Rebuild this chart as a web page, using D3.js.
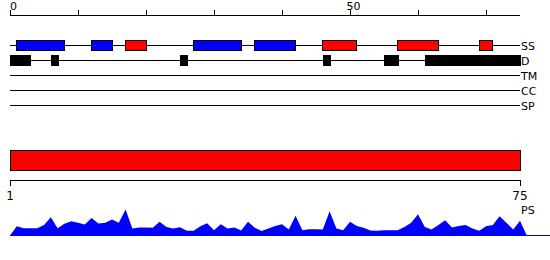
<!DOCTYPE html>
<html>
<head>
<meta charset="utf-8">
<script src="https://cdn.jsdelivr.net/npm/d3@7"></script>
<style>
    body { margin: 0; background: #fff; }
    svg { display: block; font-family: "DejaVu Sans", sans-serif; }
</style>
</head>
<body>
<div id="chart"></div>
<script>
// Feature tracks (residue ranges)
const trackNames = ["SS", "D", "TM", "CC", "SP"];
const helixSegments = [[1, 8], [12, 15], [27, 34], [36, 42]];
const strandSegments = [[17, 20], [46, 51], [57, 63], [69, 71]];
const disorderSegments = [[0, 3], [6, 7], [25, 26], [46, 47], [55, 57], [61, 75]];

// Top ruler
const topTicks = [0, 10, 20, 30, 40, 50, 60, 70];
const topTickLabels = ["0", "", "", "", "", "50", "", ""];

// Sequence bar + bottom ruler
const seqStart = 1;
const seqEnd = 75;
const bottomTicks = [1, 75];

// Per-residue score (PS), residues 1..75
const psValues = [
    0.36, 0.28, 0.28, 0.28, 0.40, 0.70, 0.28, 0.45, 0.55, 0.49,
    0.42, 0.67, 0.46, 0.49, 0.62, 0.49, 1.00, 0.27, 0.31, 0.31,
    0.30, 0.53, 0.33, 0.27, 0.32, 0.18, 0.18, 0.36, 0.47, 0.20,
    0.43, 0.27, 0.31, 0.19, 0.53, 0.30, 0.17, 0.27, 0.37, 0.43,
    0.23, 0.76, 0.20, 0.24, 0.24, 0.23, 0.93, 0.27, 0.20, 0.53,
    0.37, 0.30, 0.19, 0.18, 0.20, 0.20, 0.20, 0.33, 0.49, 0.82,
    0.33, 0.23, 0.40, 0.59, 0.31, 0.37, 0.40, 0.27, 0.18, 0.36,
    0.40, 0.74, 0.49, 0.23, 0.57
];

const width = 550;
const height = 260;

const svg = d3.select("#chart")
    .append("svg")
    .attr("width", width)
    .attr("height", height);

// Position scale shared by ruler, tracks and score area
const x = d3.scaleLinear().domain([0, 75]).range([10, 520]);
const xSeq = d3.scaleLinear().domain([seqStart, seqEnd]).range([10, 520]);
const trackY = d3.scalePoint().domain(trackNames).range([45, 105]);

// Top ruler
const topAxis = svg.append("g").attr("shape-rendering", "crispEdges");
topAxis.append("line")
    .attr("x1", x(0)).attr("x2", x(75))
    .attr("y1", 15.5).attr("y2", 15.5)
    .attr("stroke", "#000");
topAxis.selectAll(".tick")
    .data(topTicks)
    .join("line")
    .attr("x1", d => Math.round(x(d)) + 0.5)
    .attr("x2", d => Math.round(x(d)) + 0.5)
    .attr("y1", 10).attr("y2", 15.5)
    .attr("stroke", "#000");
topAxis.selectAll("text")
    .data(topTicks)
    .join("text")
    .attr("x", d => x(d) + 3.5)
    .attr("y", 10)
    .attr("text-anchor", "middle")
    .attr("font-size", 11)
    .text((d, i) => topTickLabels[i]);

// Track lines and labels
const tracks = svg.append("g").attr("shape-rendering", "crispEdges");
tracks.selectAll("line")
    .data(trackNames)
    .join("line")
    .attr("x1", x(0)).attr("x2", x(75))
    .attr("y1", d => trackY(d) + 0.5)
    .attr("y2", d => trackY(d) + 0.5)
    .attr("stroke", "#000");
svg.selectAll(".track-label")
    .data(trackNames)
    .join("text")
    .attr("class", "track-label")
    .attr("x", x(75) + 1)
    .attr("y", d => trackY(d) + 4.5)
    .attr("font-size", 11)
    .text(d => d);

// Secondary structure boxes
const ssY = trackY("SS");
const ssBoxes = helixSegments.map(s => ({ s, color: "#0000ff" }))
    .concat(strandSegments.map(s => ({ s, color: "#ff0000" })));
tracks.selectAll(".ss")
    .data(ssBoxes)
    .join("rect")
    .attr("class", "ss")
    .attr("x", d => Math.floor(x(d.s[0])) + 0.5)
    .attr("y", ssY - 4.5)
    .attr("width", d => Math.floor(x(d.s[1])) - Math.floor(x(d.s[0])))
    .attr("height", 10)
    .attr("fill", d => d.color)
    .attr("stroke", "#000");

// Disorder boxes
const dY = trackY("D");
tracks.selectAll(".dis")
    .data(disorderSegments)
    .join("rect")
    .attr("class", "dis")
    .attr("x", d => Math.round(x(d[0])))
    .attr("y", dY - 5)
    .attr("width", d => Math.round(x(d[1]) - x(d[0])) + 1)
    .attr("height", 11)
    .attr("fill", "#000");

// Sequence bar
const seq = svg.append("g").attr("shape-rendering", "crispEdges");
seq.append("rect")
    .attr("x", xSeq(seqStart) + 0.5)
    .attr("y", 150.5)
    .attr("width", xSeq(seqEnd) - xSeq(seqStart))
    .attr("height", 20)
    .attr("fill", "#ff0000")
    .attr("stroke", "#000");

// Bottom ruler
seq.append("line")
    .attr("x1", xSeq(seqStart)).attr("x2", xSeq(seqEnd) + 1)
    .attr("y1", 180.5).attr("y2", 180.5)
    .attr("stroke", "#000");
seq.selectAll(".btick")
    .data(bottomTicks)
    .join("line")
    .attr("class", "btick")
    .attr("x1", d => Math.round(xSeq(d)) + 0.5)
    .attr("x2", d => Math.round(xSeq(d)) + 0.5)
    .attr("y1", 180.5).attr("y2", 186)
    .attr("stroke", "#000");
svg.selectAll(".blabel")
    .data(bottomTicks)
    .join("text")
    .attr("class", "blabel")
    .attr("x", d => xSeq(d))
    .attr("y", 200)
    .attr("text-anchor", "middle")
    .attr("font-size", 12)
    .text(d => d);

// Score area
const y = d3.scaleLinear().domain([0, 1]).range([235.5, 209.5]);
const areaPts = [0].concat(psValues, [0]);
const area = d3.area()
    .x((d, i) => x(i))
    .y0(y(0))
    .y1(d => y(d));

svg.append("line")
    .attr("x1", x(0)).attr("x2", width)
    .attr("y1", y(0)).attr("y2", y(0))
    .attr("stroke", "#0000ff");
svg.append("path")
    .datum(areaPts)
    .attr("fill", "#0000ff")
    .attr("d", area);

svg.append("text")
    .attr("x", x(75) + 1)
    .attr("y", 214)
    .attr("font-size", 11)
    .text("PS");
</script>
</body>
</html>
